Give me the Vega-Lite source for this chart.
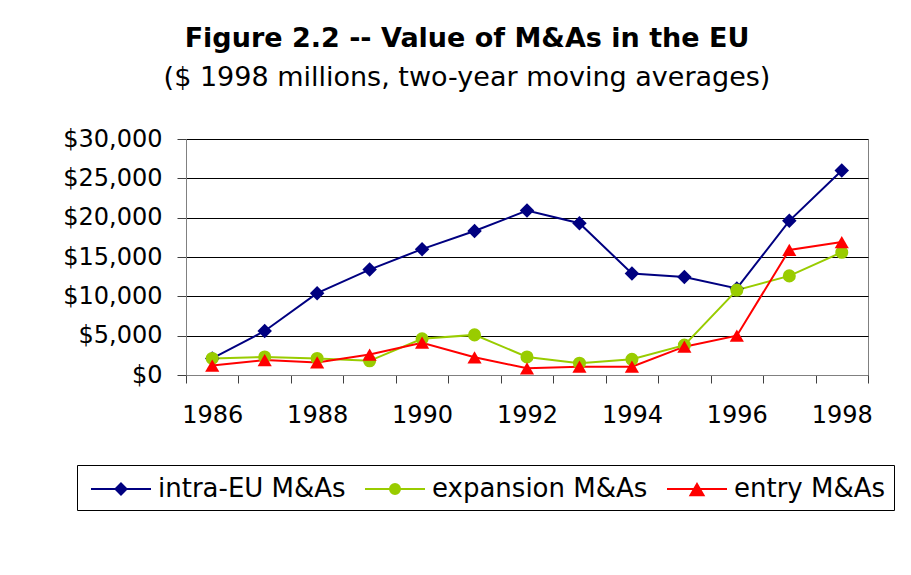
{
  "$schema": "https://vega.github.io/schema/vega-lite/v6.json",
  "autosize": "none",
  "width": 682,
  "height": 236,
  "padding": {"left": 186, "top": 139, "right": 43, "bottom": 200},
  "background": "white",
  "title": {
    "text": "Figure 2.2 -- Value of M&As in the EU",
    "subtitle": "($ 1998 millions, two-year moving averages)",
    "font": "DejaVu Sans",
    "fontSize": 27,
    "fontWeight": "bold",
    "color": "black",
    "subtitleFont": "DejaVu Sans",
    "subtitleFontSize": 27,
    "subtitleColor": "black",
    "subtitlePadding": 12,
    "anchor": "middle",
    "frame": "group",
    "dx": -60,
    "offset": 35
  },
  "config": {
    "view": {"stroke": "#808080", "strokeWidth": 1},
    "font": "DejaVu Sans"
  },
  "data": {
    "values": [
      {"year": 1986, "series": "intra-EU M&As", "value": 2100},
      {"year": 1987, "series": "intra-EU M&As", "value": 5600},
      {"year": 1988, "series": "intra-EU M&As", "value": 10400},
      {"year": 1989, "series": "intra-EU M&As", "value": 13400},
      {"year": 1990, "series": "intra-EU M&As", "value": 16000},
      {"year": 1991, "series": "intra-EU M&As", "value": 18300},
      {"year": 1992, "series": "intra-EU M&As", "value": 20900},
      {"year": 1993, "series": "intra-EU M&As", "value": 19300},
      {"year": 1994, "series": "intra-EU M&As", "value": 12900},
      {"year": 1995, "series": "intra-EU M&As", "value": 12450},
      {"year": 1996, "series": "intra-EU M&As", "value": 11000},
      {"year": 1997, "series": "intra-EU M&As", "value": 19600},
      {"year": 1998, "series": "intra-EU M&As", "value": 26000},
      {"year": 1986, "series": "expansion M&As", "value": 2100},
      {"year": 1987, "series": "expansion M&As", "value": 2300},
      {"year": 1988, "series": "expansion M&As", "value": 2100},
      {"year": 1989, "series": "expansion M&As", "value": 1800},
      {"year": 1990, "series": "expansion M&As", "value": 4600},
      {"year": 1991, "series": "expansion M&As", "value": 5100},
      {"year": 1992, "series": "expansion M&As", "value": 2300},
      {"year": 1993, "series": "expansion M&As", "value": 1500},
      {"year": 1994, "series": "expansion M&As", "value": 2000},
      {"year": 1995, "series": "expansion M&As", "value": 3800},
      {"year": 1996, "series": "expansion M&As", "value": 10800},
      {"year": 1997, "series": "expansion M&As", "value": 12600},
      {"year": 1998, "series": "expansion M&As", "value": 15600},
      {"year": 1986, "series": "entry M&As", "value": 1200},
      {"year": 1987, "series": "entry M&As", "value": 1900},
      {"year": 1988, "series": "entry M&As", "value": 1600},
      {"year": 1989, "series": "entry M&As", "value": 2600},
      {"year": 1990, "series": "entry M&As", "value": 4100},
      {"year": 1991, "series": "entry M&As", "value": 2250},
      {"year": 1992, "series": "entry M&As", "value": 850},
      {"year": 1993, "series": "entry M&As", "value": 1050},
      {"year": 1994, "series": "entry M&As", "value": 1050},
      {"year": 1995, "series": "entry M&As", "value": 3600},
      {"year": 1996, "series": "entry M&As", "value": 5000},
      {"year": 1997, "series": "entry M&As", "value": 15900},
      {"year": 1998, "series": "entry M&As", "value": 16900}
    ]
  },
  "encoding": {
    "x": {
      "field": "year",
      "type": "ordinal",
      "scale": {"type": "band", "paddingInner": 0, "paddingOuter": 0},
      "axis": {
        "title": null,
        "labelAngle": 0,
        "labelExpr": "toNumber(datum.value) % 2 == 0 ? datum.label : ''",
        "labelFont": "DejaVu Sans",
        "labelFontSize": 24,
        "labelColor": "black",
        "labelPadding": 20,
        "tickBand": "extent",
        "tickSize": 8,
        "tickColor": "#404040",
        "domainColor": "#808080",
        "grid": false
      }
    },
    "y": {
      "field": "value",
      "type": "quantitative",
      "scale": {"domain": [0, 30000], "nice": false},
      "axis": {
        "title": null,
        "values": [0, 5000, 10000, 15000, 20000, 25000, 30000],
        "format": "$,d",
        "labelFont": "DejaVu Sans",
        "labelFontSize": 24,
        "labelColor": "black",
        "labelPadding": 15,
        "tickSize": 9,
        "tickColor": "#404040",
        "domainColor": "#808080",
        "grid": true,
        "gridColor": "black",
        "gridWidth": 1
      }
    },
    "color": {
      "field": "series",
      "type": "nominal",
      "scale": {
        "domain": ["intra-EU M&As", "expansion M&As", "entry M&As"],
        "range": ["#000080", "#99CC00", "#FF0000"]
      },
      "legend": {
        "title": null,
        "orient": "none",
        "direction": "horizontal",
        "legendX": -109,
        "legendY": 326,
        "strokeColor": "black",
        "fillColor": "white",
        "padding": 8,
        "columnPadding": 13,
        "labelFont": "DejaVu Sans",
        "labelFontSize": 26,
        "labelColor": "black",
        "labelLimit": 400,
        "labelOffset": 41,
        "symbolSize": 900,
        "symbolStrokeWidth": 2,
        "encode": {
          "symbols": {
            "update": {
              "shape": {"signal": "datum.value === 'intra-EU M&As' ? 'M-0.667,0H3.333M1.333,-0.37L1.703,0L1.333,0.37L0.963,0Z' : datum.value === 'expansion M&As' ? 'M-0.667,0H3.333M1.0,0A0.333,0.333 0 1,0 1.667,0A0.333,0.333 0 1,0 1.0,0Z' : 'M-0.667,0H3.333M1.333,-0.33L1.77,0.42L0.896,0.42Z'"},
              "fill": {"scale": "color", "field": "value"},
              "stroke": {"scale": "color", "field": "value"},
              "strokeWidth": {"value": 2},
              "size": {"value": 900},
              "opacity": {"value": 1}
            }
          }
        }
      }
    }
  },
  "layer": [
    {
      "mark": {"type": "line", "strokeWidth": 2}
    },
    {
      "transform": [{"filter": "datum.series === 'intra-EU M&As'"}],
      "mark": {"type": "point", "shape": "diamond", "filled": true, "opacity": 1, "size": 210}
    },
    {
      "transform": [{"filter": "datum.series === 'expansion M&As'"}],
      "mark": {"type": "point", "shape": "circle", "filled": true, "opacity": 1, "size": 170}
    },
    {
      "transform": [{"filter": "datum.series === 'entry M&As'"}],
      "mark": {"type": "point", "shape": "triangle-up", "filled": true, "opacity": 1, "size": 200}
    }
  ]
}
